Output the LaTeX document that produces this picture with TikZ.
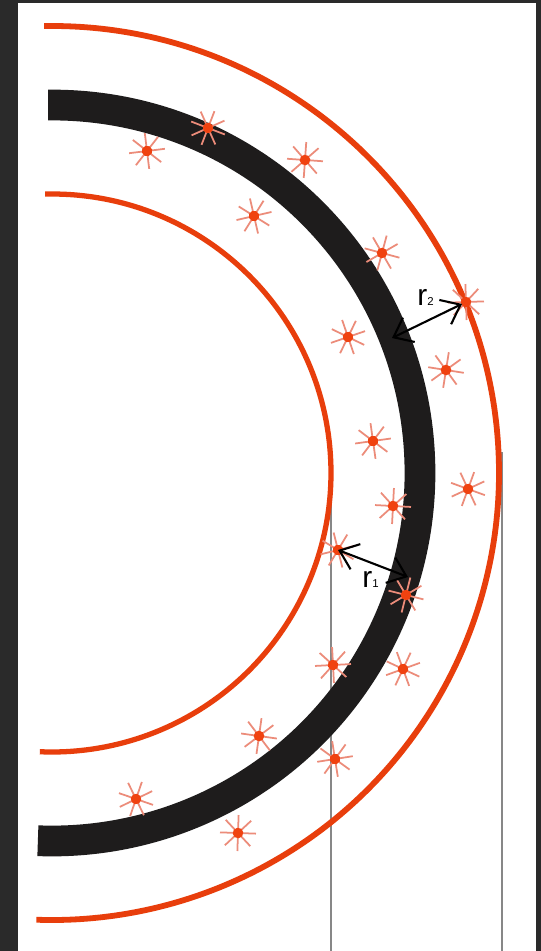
\documentclass[tikz,border=0pt]{standalone}
\usepackage{fontspec}
\setmainfont{Liberation Sans}
\usepackage{xcolor}
\usetikzlibrary{arrows.meta}

\definecolor{frame}{RGB}{42,42,42}
\definecolor{orbit}{RGB}{232,62,12}
\definecolor{band}{RGB}{30,28,28}
\definecolor{ray}{RGB}{236,140,122}
\definecolor{core}{RGB}{240,66,16}
\definecolor{guide}{RGB}{135,135,135}

\tikzset{
  burst/.pic={
    \foreach \a in {10,55,...,325}
      \draw[ray,line width=1pt] (0,0) -- (\a:18);
    \fill[core] (0,0) circle (5.3);
  },
  lbl/.style={anchor=base west,inner sep=0pt,font=\fontsize{17}{18}\selectfont},
}

\begin{document}
\begin{tikzpicture}[x=0.02cm,y=-0.02cm,>={Straight Barb[length=3.4mm,width=5.4mm]}]
  % frame and page
  \fill[frame] (0,0) rectangle (541,951);
  \fill[white] (18,3) rectangle (536,951);
  \useasboundingbox (0,0) rectangle (541,951);
  % guide lines
  \draw[guide,line width=0.9pt] (331,460) -- (331,951);
  \draw[guide,line width=0.9pt] (502,452) -- (502,951);
  % centre of the rings
  \coordinate (c) at (52,473);
  % inner and outer ring
  \draw[orbit,line width=3pt] (c) ++(-91.4:279) arc[start angle=-91.4,end angle=92.5,radius=279];
  \draw[orbit,line width=3.3pt] (c) ++(-91:447) arc[start angle=-91,end angle=92,radius=447];
  % thick band
  \draw[band,line width=17.5pt] (c) ++(-90.6:368) arc[start angle=-90.6,end angle=92.2,radius=368];
  % bursts
  \foreach \x/\y [count=\i] in {147/151,208/128,305/160,254/216,382/253,466/302,
      348/337,446/370,373/441,468/489,393/506,338/550,406/595,333/665,
      403/669,259/736,335/759,136/799,238/833}
  {
    \coordinate (s\i) at (\x,\y);
    \pic[rotate={mod(\i*17,45)}] at (s\i) {burst};
  }
  % r2: band to outer ring
  \coordinate (b2) at (392,338);
  \draw[<->,line width=1.2pt,shorten >=2.5pt] (b2) -- (s6);
  \node[lbl] (l2) at (417,305) {r{\fontsize{6.5}{7}\selectfont 2}};
  % r1: inner ring to band
  \coordinate (b1) at (408,577);
  \draw[<->,line width=1.2pt] (s12) -- (b1);
  \node[lbl] (l1) at (362,587) {r{\fontsize{6.5}{7}\selectfont 1}};
\end{tikzpicture}
\end{document}
